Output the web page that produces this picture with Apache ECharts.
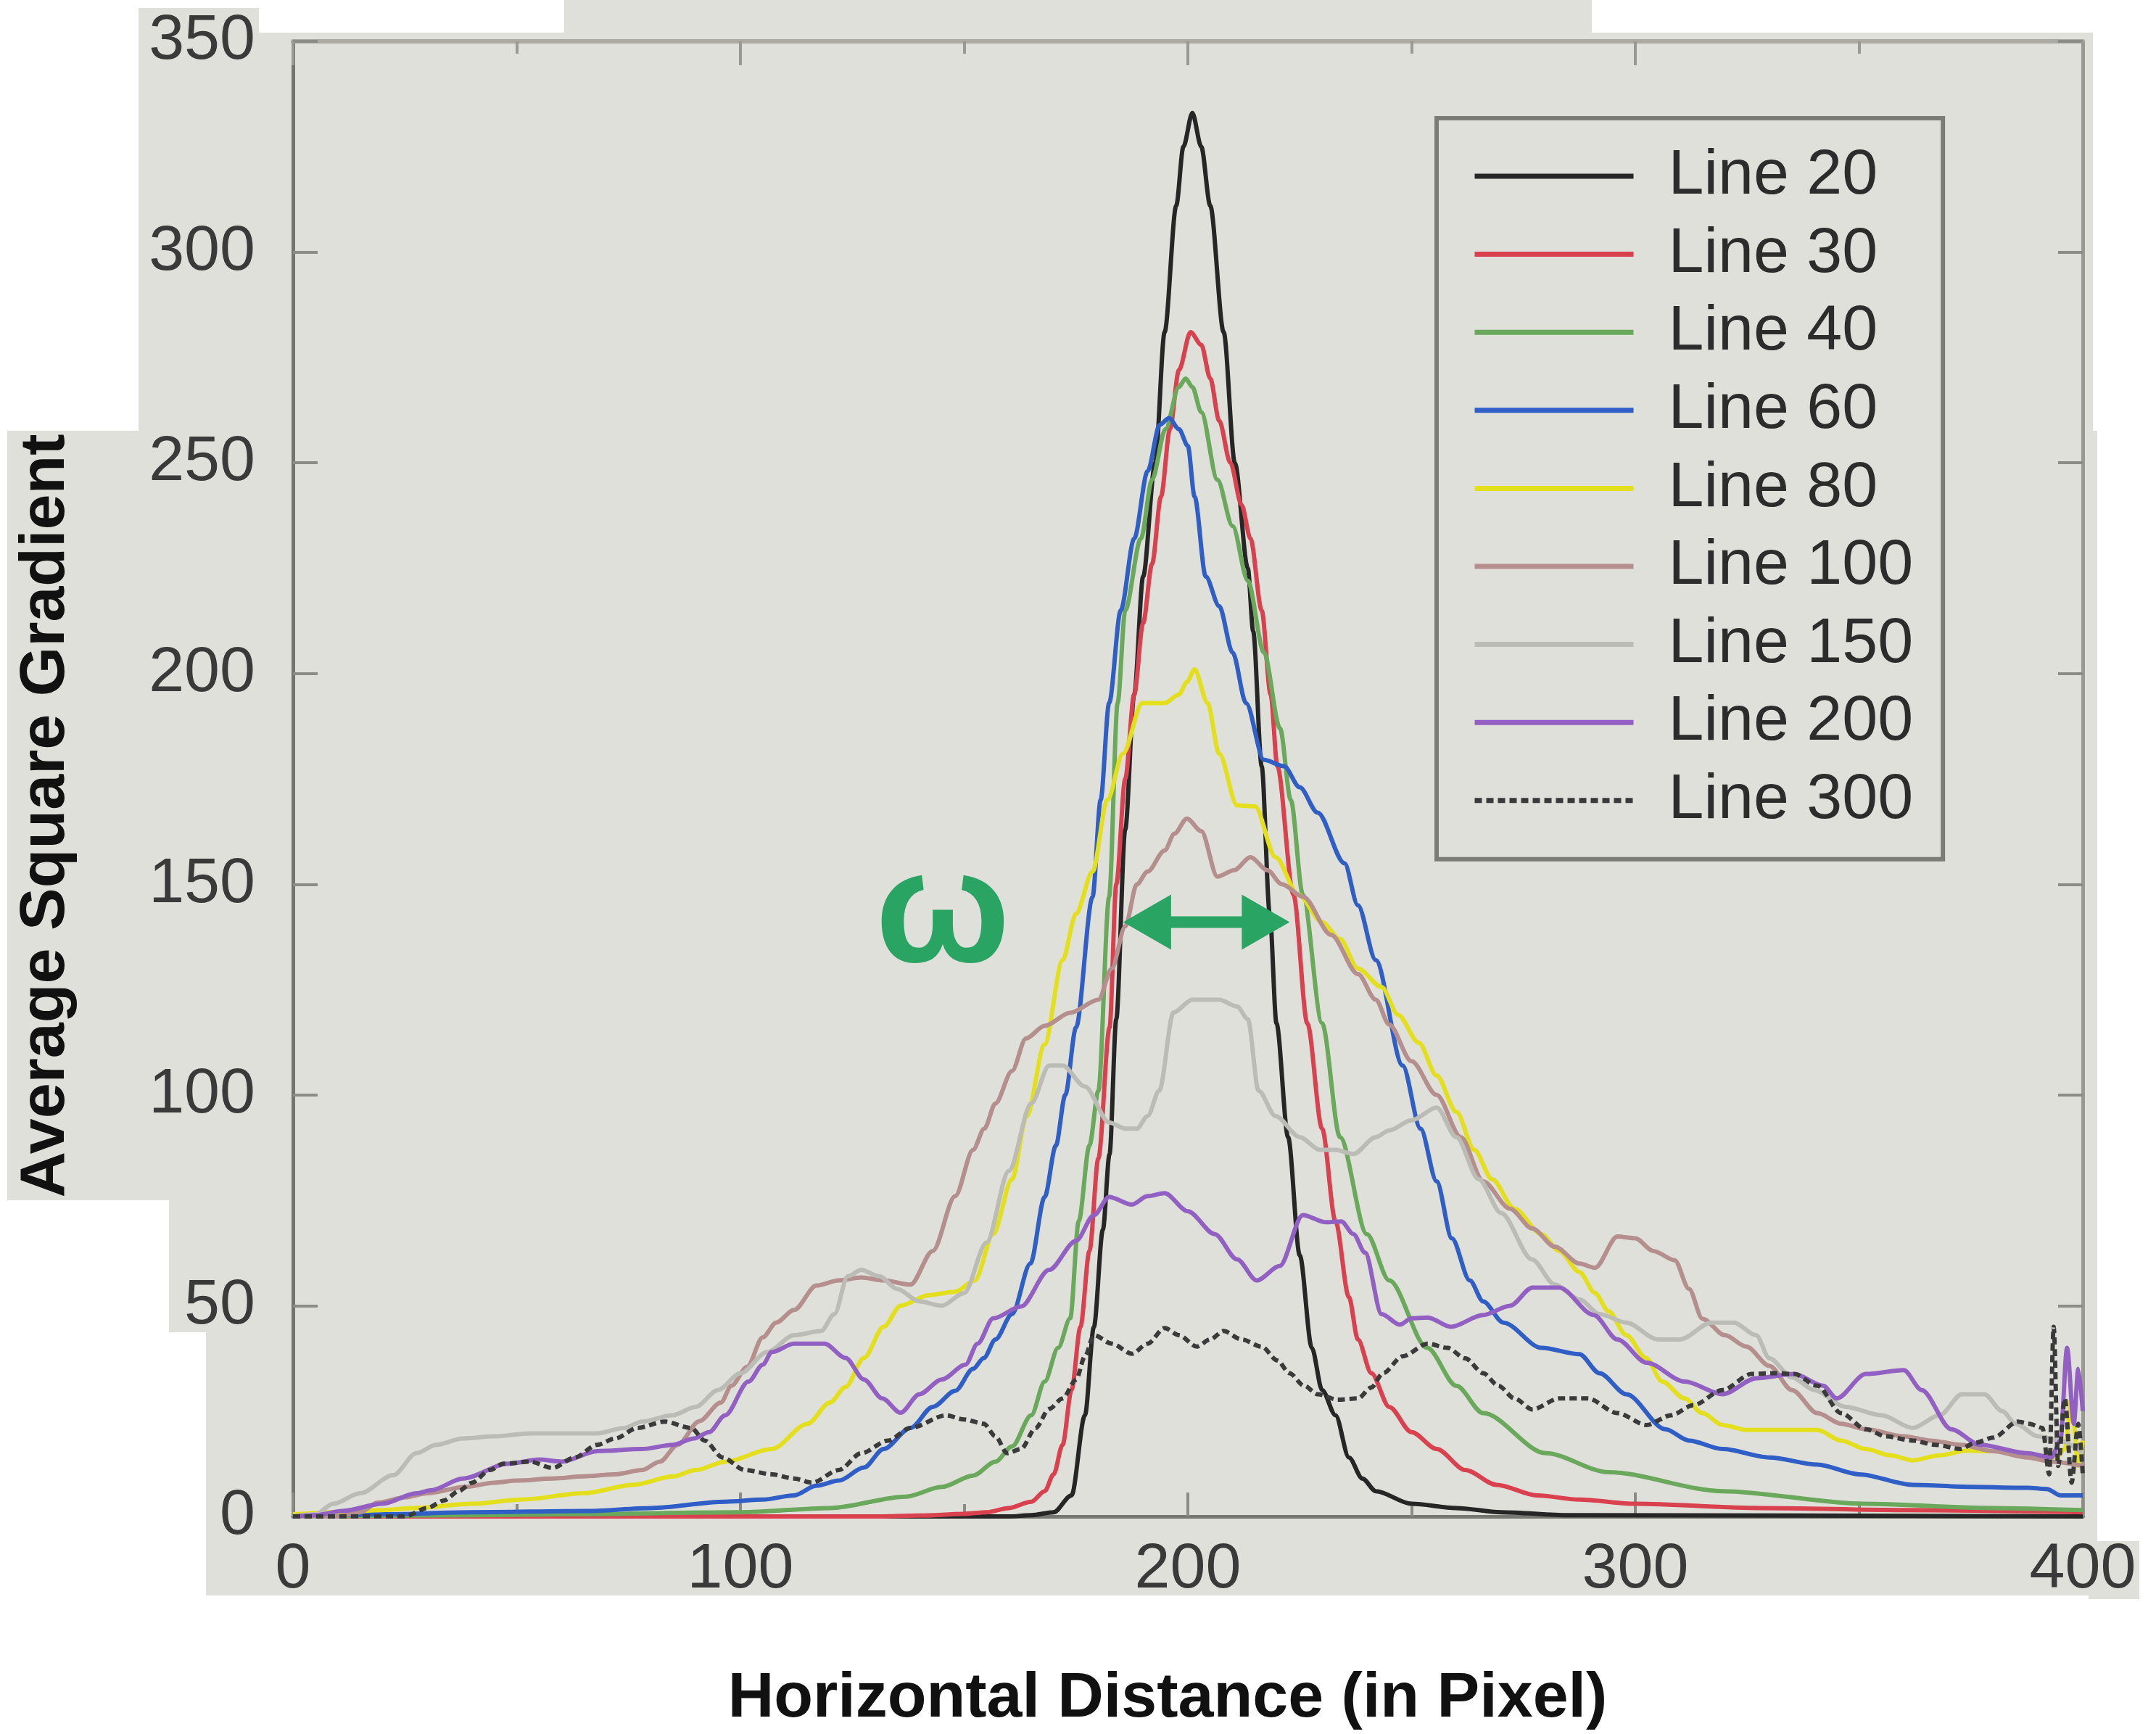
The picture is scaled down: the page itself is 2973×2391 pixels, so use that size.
<!DOCTYPE html>
<html><head><meta charset="utf-8">
<script src="https://cdn.jsdelivr.net/npm/echarts@6/dist/echarts.min.js"></script>
<style>html,body{margin:0;padding:0;background:#fff}#c{width:2973px;height:2391px}</style>
</head><body><div id="c"></div>
<script>
// ---------- data ----------
const seriesNames = ['Line 20','Line 30','Line 40','Line 60','Line 80','Line 100','Line 150','Line 200','Line 300'];
const xTickValues = [0,100,200,300,400];
const yTickValues = [0,50,100,150,200,250,300,350];
const xTitle = 'Horizontal Distance (in Pixel)';
const yTitle = 'Average Square Gradient';

const line20 = [[0,0],[160,0],[165,0.3],[170,1],[174,5],[177,24],[179,45],[181,68],[182.5,86],[184,118],[186,163],[188,195],[190,223],[192.7,250],[194.8,281],[197.4,311],[199,325],[201,333],[203,325],[205,311],[208,281],[210.5,250],[213.4,225],[214.6,210],[216.5,178],[218.3,143],[219.8,117],[222.4,90],[225,62],[227.7,40],[230,30],[233,24],[236,14],[239,9],[242,6],[250,3],[260,2],[270,1],[285,0.3],[400,0]];
const line30 = [[0,0],[130,0],[140,0.2],[150,0.6],[155,1],[160,2],[165,3.5],[168,6],[170,10],[172,17],[174,30],[176,45],[178,63],[180,85],[182.5,116],[184,150],[186,175],[188,195],[190,212],[192,226],[194,242],[196,258],[198,272],[200.6,281],[203,278],[205,270],[207,260],[209.5,250],[212,240],[214,232],[216.5,215],[218.5,195],[220,178],[223.6,147.5],[226.7,117],[230,92],[233,70],[236,52],[238,42],[241,34],[245,26],[250,20],[255.6,16],[262,11],[269,7.5],[278,5],[287.5,4],[300,3],[328,2],[360,1.5],[400,1]];
const line40 = [[0,0],[40,0.3],[60,0.5],[100,1],[120,2],[137,4.7],[145,7],[152,9.7],[157,13],[160.7,16.6],[165,24],[168,32],[171,40],[173.7,47],[175.6,70],[178,88],[180,101],[182.4,147],[184.3,193],[186,215],[189.5,232],[192,246],[195,258],[198,268],[199.5,270],[201,268],[203,262],[206.6,246],[210,235],[213.4,222],[217,205],[220.6,187],[223,170],[225.7,147.5],[230,117],[234,90],[240,67],[245,56],[253.5,40],[260,31],[266,24.5],[280,15],[294,10.5],[319.5,6],[351,3],[380,2],[400,1.5]];
const line60 = [[0,0],[20,0.5],[40,1],[66,1.3],[80,2],[96.6,3.5],[105,4],[112,5],[117,7.3],[122,8.5],[127.6,11.6],[132,16],[138,21],[143,26],[148,29.8],[152,35],[154.4,37.6],[157,42],[160.7,48],[164.8,60],[168,75.8],[170.5,88],[172.6,100],[175,116],[178.7,147],[180.5,170],[182.4,193],[185,215],[188,232],[191,248],[193.7,259],[195.8,260.6],[198,258],[200,254],[201.5,242],[204,223],[207,216],[210,205],[213,193],[217,179.5],[221.5,178],[225,173],[229,167],[235,155],[238,145],[242,132],[248,107],[252,92],[255.6,79.5],[259,66],[263,56],[266,51],[270.5,46],[279,40],[287.5,38.5],[292,34],[298,29],[306.7,20.7],[312,18],[319.5,16],[330,14],[340.7,12.3],[350,10],[362,7.5],[375,7],[387.6,6.8],[392,6.5],[395,5],[400,5]];
const line80 = [[0,0.5],[10,1],[20,1.5],[27,2],[40,3],[51,4],[65,5.5],[76,7.5],[85,9.5],[90,11],[96.6,13],[107,16],[115,22],[120,27],[123.5,30.7],[127.6,37.6],[132,45],[135.8,50],[142,52.5],[148,53.3],[152.4,56],[156.5,67],[160.7,80],[164,95],[168,112],[172,132],[175,143],[178.7,153],[182,170],[185.5,181],[189.8,193],[194.8,193],[198,195],[199.8,198],[201.5,201],[204.4,193],[207,181],[211,168.7],[215,168.5],[219.6,156.4],[224.7,147.5],[230,141],[234,137],[238,130],[243.3,125.6],[247,119],[251.6,112.4],[255.6,104.6],[260,96],[264,87],[268,80],[273,73],[279,67],[283,63],[287.5,58],[291,53],[294,48.7],[298,43],[302.4,37.6],[306,32],[311,28],[315,24.5],[319.5,21.7],[325,20.5],[333,20.5],[340.7,20.5],[346,18],[351.5,16],[357,14.5],[362,13.3],[368,14.5],[374,15.6],[380,15.5],[385,15],[390,14],[394,14],[396,16],[397.5,28],[399,12],[400,18]];
const line100 = [[0,0],[10,0],[15,1],[19,3.3],[25,4.5],[30,5.5],[38.6,7],[45,8],[50,8.5],[58,9],[65,9.5],[72,10],[78,11],[82,13],[86,17],[90.8,22.6],[95.6,27],[98,31],[101.5,35.5],[105,42.5],[108,46],[112,49],[117,54.8],[122,56],[127,56.7],[132,56],[138,55],[143,63],[148,76],[152,87],[154.5,92],[157,98],[160.7,105.7],[163.8,113.4],[168,116.4],[173.7,119.5],[180,122.6],[183,130],[186,140],[188.6,150],[191,153],[194.8,158],[197,162],[199.8,165.6],[203,162.6],[206.6,151.8],[210.3,153.3],[214,156.4],[217.8,153.3],[221,150],[225.8,147],[232,138],[238,128.7],[242,122.6],[245,116.7],[250,108],[255.6,100],[261,90],[266,79.5],[272,73],[277,68.3],[282,64],[287.5,60],[291,59],[296,66.4],[300,66],[304,63],[308.8,60.8],[312,54],[315,46.9],[320,43],[324.8,40.3],[330,35.7],[335,30],[340.7,24.5],[346,22],[351.5,20.7],[360,19],[366,18],[372.7,17],[380,15.5],[387.6,14],[393,13],[400,12]];
const line150 = [[0,0],[5,0.5],[9,3],[15,5.5],[22.4,9.8],[27.6,15],[32,17],[38,18.5],[45,19],[53,19.7],[60,19.7],[68,19.7],[74,21],[78,22.5],[84.8,24],[90,26],[95,30],[100,34],[106,39],[112,43],[118,44],[121,48],[124,57],[127,58.5],[131,57],[135,54],[140,51],[145,50],[150,53],[155,65],[160,82],[165,98],[169,107],[172,107],[177,102],[182.4,93.5],[186,92],[188.6,92],[191,95],[193.6,101],[196.8,119.6],[201,122.6],[207,122.6],[211,121],[213.4,118],[215.8,101],[219.6,95],[225,90],[229.5,87],[233,87],[237,86],[242,90],[245,91.6],[250,94],[255.6,97],[260,90],[265,80],[270,72],[276.9,61],[282,55],[287.5,51.5],[292,48],[298,46],[305,42],[310,42],[317,46],[322,46],[327,43],[330,37.5],[335,33],[340,30],[347,26],[355,24],[362,21],[368,24],[373,29],[378,29],[382,25],[385,22],[390,19],[395,18],[400,15]];
const line200 = [[0,0],[5,0.3],[11,1.3],[20,3],[27.6,5.5],[30.8,6.2],[38,9],[48,12.5],[55,13.5],[60,13],[68,15.5],[78,16],[85,17],[89.6,18.5],[93,20],[96.6,24],[101.8,32],[105,36],[107,39],[112,41],[118.8,41],[123.5,37.6],[127.6,32.5],[131.7,28],[135.8,24.6],[140,29],[145,32.5],[150.3,36],[153,41],[156.5,47],[162.7,49.8],[169,58.5],[175,65.4],[179,71.5],[182.4,75.8],[187.5,74],[191,76],[194.8,76.7],[200,72.4],[206,67],[211,61],[215.4,56],[220.5,59.4],[225.7,71.5],[230.9,69.8],[234.3,70],[237,67],[239.6,62.6],[243.3,48],[247.4,45.5],[250,47],[253.6,47.2],[258.8,45],[266,47.8],[272,50],[277,54.3],[283,54.3],[290.7,47.8],[296,42],[302.5,36.5],[311,32],[319.5,29],[327,32.8],[335.5,33.8],[342,31],[345,28],[351.5,33.8],[360,34.7],[364,30],[370.6,20.7],[377,17],[387.6,15],[393,14],[395,18],[396.5,40],[398,22],[399,35],[400,25]];
const line300 = [[0,0],[25,0],[30,2],[33.8,3.8],[37,6],[40,8],[44,11],[47,12.5],[53,13],[58,11.5],[63,14],[68,17],[72,18.5],[77,21],[83,22.5],[89,21],[92,18],[96,14],[101,11],[107,10],[112,9],[116,8],[122,11],[127,15],[133,18],[138,21],[146,24],[150,23],[154.4,22],[157,19],[159.6,15],[162.7,16],[166,21],[169,25.5],[172,28],[175,32.4],[177,38],[179,43],[183,41],[187.5,38.6],[191,41],[194.8,44.7],[198,43],[202,40.3],[205,42],[208,44],[212,42],[216.5,40.3],[220,37],[222.7,34],[226,31],[229,29],[233.5,27.7],[238,28],[241,30.6],[243.6,34],[248,38],[253.6,41],[258,40],[262,37.5],[266,34],[269.4,31],[273,28],[277,25.4],[283,28],[289.4,28],[296,24.5],[302.5,21.7],[308,24],[313,26.4],[319.5,30],[326,33.8],[331,34],[335.5,33.8],[340.7,31],[346,24.5],[351.5,20.7],[356,19],[362,18],[367,17],[372.7,16],[376,17.5],[380,18.7],[385.5,22.5],[388,22],[391,21],[392.5,10],[393.5,45],[394.5,12],[396,28],[397.5,8],[399,22],[400,10]];

// annotation (omega + width arrow), in data units
const omegaAt = [145.2, 142.0];
const arrowEnds = [[190.9, 141], [217.4, 141]];

// ---------- styling ----------
const FONT = '"Liberation Sans", Arial, Helvetica, sans-serif';
const allData = [line20,line30,line40,line60,line80,line100,line150,line200,line300];
const colors = ['#262626','#d9414f','#6aa85c','#2f5ec6','#e4df1c','#b58e8e','#bcbcb6','#9160c2','#3a3a3a'];
const lineTypes = ['solid','solid','solid','solid','solid','solid','solid','solid',[10,6]];
const BG = '#dfe0da';
const GREEN = '#2aa463';

const chart = echarts.init(document.getElementById('c'), null, {renderer:'canvas'});

const series = seriesNames.map((n,i) => ({
  name: n, type: 'line', data: allData[i], symbol: 'none', smooth: 0.3, smoothMonotone: 'x',
  lineStyle: {color: colors[i], width: 6, type: lineTypes[i]}, itemStyle: {color: colors[i]},
  z: 2 + i, silent: true
}));
series.push({
  name: 'width-arrow', type: 'line', silent: true, z: 20, smooth: false,
  symbol: 'triangle', symbolSize: [76, 66], showSymbol: true, showAllSymbol: true,
  lineStyle: {color: GREEN, width: 16}, itemStyle: {color: GREEN},
  data: [
    {value: arrowEnds[0], symbolRotate: 90},
    {value: arrowEnds[1], symbolRotate: -90}
  ],
  markPoint: {
    silent: true, animation: false, symbol: 'circle', symbolSize: 1,
    itemStyle: {color: 'rgba(0,0,0,0)'},
    label: {show: true, position: 'inside', formatter: 'ω', fontSize: 220, fontWeight: 'bold', color: GREEN, fontFamily: FONT},
    data: [{coord: omegaAt}]
  }
});

const bgRects = [
  [191,11,357,600],[357,45,778,600],[778,0,2195,600],[2195,45,2886,600],
  [10,594,2892,1655],[233,1655,2892,1837],[284,1837,2892,2200],[2880,2125,2950,2205]
].map(r => ({type:'rect', z:-100, silent:true, shape:{x:r[0],y:r[1],width:r[2]-r[0],height:r[3]-r[1]}, style:{fill:BG}}));

const tickLabel = {fontSize: 88, color: '#3a3a3a', fontFamily: FONT};

chart.setOption({
  animation: false,
  backgroundColor: '#ffffff',
  grid: {left: 404, top: 57, right: 101, bottom: 300, containLabel: false, outerBoundsMode: 'none'},
  xAxis: [
    {type: 'value', min: xTickValues[0], max: xTickValues[xTickValues.length-1], interval: 100, position: 'bottom',
     axisLine: {show: true, onZero: false, lineStyle: {color: '#777772', width: 5}},
     axisTick: {show: true, inside: true, length: 33, lineStyle: {color: '#8c8c86', width: 4}},
     minorTick: {show: true, splitNumber: 2, length: 17, lineStyle: {color: '#8c8c86', width: 4}},
     splitLine: {show: false}, minorSplitLine: {show: false},
     axisLabel: Object.assign({margin: 30}, tickLabel)},
    {type: 'value', min: xTickValues[0], max: xTickValues[xTickValues.length-1], interval: 100, position: 'top',
     axisLine: {show: true, onZero: false, lineStyle: {color: '#aaa9a2', width: 6}},
     axisTick: {show: true, inside: true, length: 33, lineStyle: {color: '#9a9a94', width: 4}},
     minorTick: {show: true, splitNumber: 2, length: 17, lineStyle: {color: '#9a9a94', width: 4}},
     splitLine: {show: false}, axisLabel: {show: false}}
  ],
  yAxis: [
    {type: 'value', min: yTickValues[0], max: yTickValues[yTickValues.length-1], interval: 50, position: 'left',
     axisLine: {show: true, onZero: false, lineStyle: {color: '#74746e', width: 5}},
     axisTick: {show: true, inside: true, length: 34, lineStyle: {color: '#8c8c86', width: 4}},
     splitLine: {show: false},
     axisLabel: Object.assign({margin: 52}, tickLabel)},
    {type: 'value', min: yTickValues[0], max: yTickValues[yTickValues.length-1], interval: 50, position: 'right',
     axisLine: {show: true, onZero: false, lineStyle: {color: '#9a9a94', width: 5}},
     axisTick: {show: true, inside: true, length: 34, lineStyle: {color: '#8c8c86', width: 4}},
     splitLine: {show: false}, axisLabel: {show: false}}
  ],
  legend: {
    data: seriesNames, orient: 'vertical', left: 1981, top: 163,
    padding: [35, 41, 36, 49], itemGap: 17.6, itemWidth: 219, itemHeight: 14,
    borderColor: '#7c7c77', borderWidth: 6, backgroundColor: BG, selectedMode: false,
    lineStyle: {width: 7},
    itemStyle: {opacity: 0, borderWidth: 0},
    textStyle: {fontSize: 88, color: '#2c2c2c', fontFamily: FONT, lineHeight: 90, padding: [0,0,0,43]}
  },
  graphic: bgRects.concat([
    {type: 'text', x: 1610, y: 2343, silent: true, z: 10,
     style: {text: xTitle, font: 'bold 88px ' + FONT, fill: '#111111', textAlign: 'center', textVerticalAlign: 'middle'}},
    {type: 'text', x: 64, y: 1125, rotation: Math.PI/2, silent: true, z: 10,
     style: {text: yTitle, font: 'bold 88px ' + FONT, fill: '#111111', textAlign: 'center', textVerticalAlign: 'middle'}}
  ]),
  series: series
});
</script></body></html>
